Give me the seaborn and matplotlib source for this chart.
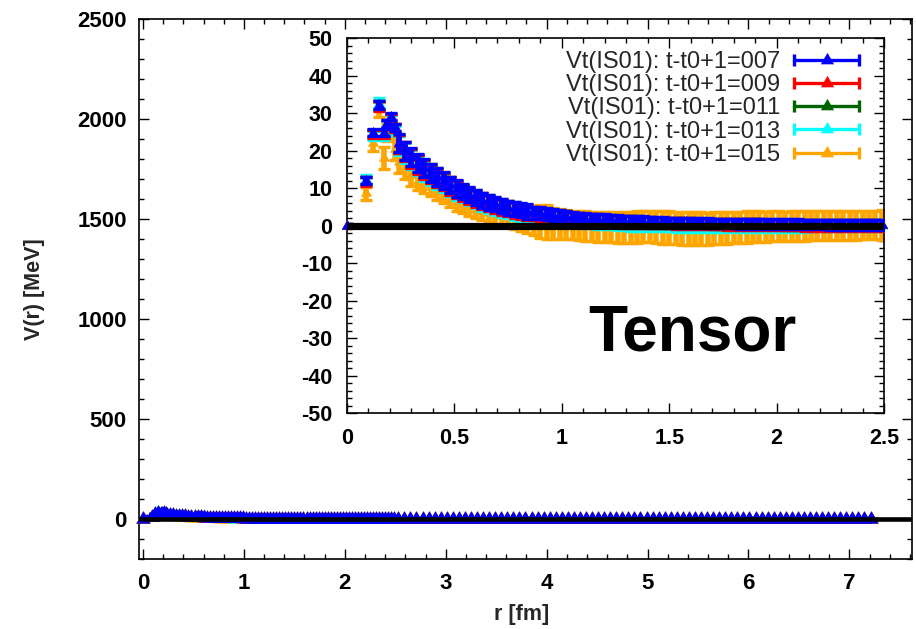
import matplotlib
matplotlib.use("Agg")
import matplotlib.pyplot as plt
import seaborn as sns
from matplotlib.lines import Line2D
from matplotlib.legend_handler import HandlerLine2D, HandlerTuple
from matplotlib.ticker import MultipleLocator, FuncFormatter

# ---------------- data ----------------
labels = ["Vt(IS01): t-t0+1=007", "Vt(IS01): t-t0+1=009", "Vt(IS01): t-t0+1=011",
          "Vt(IS01): t-t0+1=013", "Vt(IS01): t-t0+1=015"]
colors = ["#0000ff", "#ff0000", "#006400", "#00ffff", "#ffa500"]

r_in = [0.0, 0.088, 0.120, 0.149, 0.174, 0.185, 0.205, 0.223,
        0.24, 0.27, 0.30, 0.33, 0.36, 0.39, 0.42, 0.45, 0.48, 0.51,
        0.54, 0.57, 0.60, 0.63, 0.66, 0.69, 0.72, 0.75, 0.78, 0.81,
        0.84, 0.87, 0.90, 0.93, 0.96, 0.99, 1.02, 1.05, 1.08, 1.11,
        1.14, 1.17, 1.20, 1.23, 1.26, 1.29, 1.32, 1.35, 1.38, 1.41,
        1.44, 1.47, 1.50, 1.53, 1.56, 1.59, 1.62, 1.65, 1.68, 1.71,
        1.74, 1.77, 1.80, 1.83, 1.86, 1.89, 1.92, 1.95, 1.98, 2.01,
        2.04, 2.07, 2.10, 2.13, 2.16, 2.19, 2.22, 2.25, 2.28, 2.31,
        2.34, 2.37, 2.40, 2.43, 2.46, 2.49]

v_007 = [0.0, 12.0, 24.8, 32.2, 24.8, 27.3, 29.1, 26.2,
         22.0, 20.0, 18.2, 16.6, 15.3, 14.1, 13.0, 12.0, 10.9, 9.9,
         9.0, 8.2, 7.5, 6.8, 6.2, 5.7, 5.2, 4.8, 4.4, 4.1,
         3.8, 3.5, 3.3, 3.0, 2.8, 2.6, 2.4, 2.2, 2.1, 1.9,
         1.8, 1.7, 1.6, 1.5, 1.4, 1.3, 1.2, 1.15, 1.1, 1.0,
         0.95, 0.9, 0.85, 0.8, 0.8, 0.75, 0.7, 0.7, 0.65, 0.6,
         0.6, 0.55, 0.55, 0.5, 0.5, 0.45, 0.45, 0.4, 0.4, 0.4,
         0.35, 0.35, 0.35, 0.3, 0.3, 0.3, 0.3, 0.25, 0.25, 0.25,
         0.25, 0.2, 0.2, 0.2, 0.2, 0.2]
e_007 = [0.4, 1.0, 1.0, 1.2, 1.0, 1.0, 1.0, 1.0,
         2.4, 2.4, 2.4, 2.4, 2.4, 2.4, 2.4, 2.2, 2.2, 2.2,
         2.0, 2.0, 2.0, 2.0, 2.0, 1.9, 1.9, 1.9, 1.9, 1.9,
         1.9, 1.6, 1.6, 1.6, 1.6, 1.6, 1.6, 1.4, 1.4, 1.4,
         1.4, 1.4, 1.4, 1.4, 1.4, 1.4, 1.4, 1.4, 1.4, 1.4,
         1.3, 1.3, 1.3, 1.3, 1.3, 1.3, 1.3, 1.3, 1.3, 1.3,
         1.3, 1.3, 1.3, 1.3, 1.3, 1.3, 1.3, 1.3, 1.3, 1.3,
         1.3, 1.3, 1.3, 1.3, 1.3, 1.3, 1.3, 1.3, 1.3, 1.3,
         1.3, 1.3, 1.3, 1.3, 1.3, 1.3]

v_009 = [0.0, 11.8, 24.5, 31.9, 24.5, 27.0, 28.8, 26.0,
         21.8, 19.8, 18.0, 16.4, 15.0, 13.8, 12.7, 11.7, 10.6, 9.6,
         8.7, 7.9, 7.2, 6.5, 5.9, 5.4, 4.9, 4.5, 4.1, 3.8,
         3.5, 3.2, 3.0, 2.7, 2.5, 2.3, 2.1, 1.9, 1.8, 1.6,
         1.5, 1.4, 1.3, 1.2, 1.1, 1.0, 0.95, 0.9, 0.85, 0.8,
         0.75, 0.7, 0.65, 0.6, 0.6, 0.55, 0.5, 0.5, 0.45, 0.4,
         0.4, 0.35, 0.35, 0.3, 0.3, 0.25, 0.25, 0.2, 0.2, 0.2,
         0.15, 0.15, 0.15, 0.1, 0.1, 0.1, 0.1, 0.1, 0.1, 0.1,
         0.1, 0.1, 0.1, 0.1, 0.1, 0.1]
e_009 = [0.5, 1.1, 1.1, 1.3, 1.1, 1.1, 1.1, 1.1,
         2.5, 2.5, 2.5, 2.5, 2.5, 2.5, 2.5, 2.3, 2.3, 2.3,
         2.1, 2.1, 2.1, 2.1, 2.1, 2.0, 2.0, 2.0, 2.0, 2.0,
         2.0, 1.7, 1.7, 1.7, 1.7, 1.7, 1.7, 1.5, 1.5, 1.5,
         1.5, 1.5, 1.5, 1.5, 1.5, 1.5, 1.5, 1.5, 1.5, 1.5,
         1.4, 1.4, 1.4, 1.4, 1.4, 1.4, 1.4, 1.4, 1.4, 1.4,
         1.4, 1.4, 1.4, 1.4, 1.4, 1.4, 1.4, 1.4, 1.4, 1.4,
         1.4, 1.4, 1.4, 1.4, 1.4, 1.4, 1.4, 1.4, 1.4, 1.4,
         1.4, 1.4, 1.4, 1.4, 1.4, 1.4]

v_011 = [0.0, 12.0, 24.6, 32.0, 24.6, 27.1, 28.9, 26.0,
         21.9, 19.9, 18.1, 16.5, 15.2, 14.0, 12.9, 11.9, 10.8, 9.8,
         8.9, 8.1, 7.4, 6.7, 6.1, 5.6, 5.1, 4.7, 4.3, 4.0,
         3.7, 3.4, 3.2, 2.9, 2.7, 2.5, 2.3, 2.1, 2.0, 1.8,
         1.7, 1.6, 1.5, 1.4, 1.3, 1.2, 1.1, 1.05, 1.0, 0.9,
         0.85, 0.8, 0.75, 0.7, 0.7, 0.65, 0.6, 0.6, 0.55, 0.5,
         0.5, 0.45, 0.45, 0.4, 0.4, 0.35, 0.35, 0.3, 0.3, 0.3,
         0.25, 0.25, 0.25, 0.2, 0.2, 0.2, 0.2, 0.15, 0.15, 0.15,
         0.15, 0.15, 0.15, 0.15, 0.15, 0.15]
e_011 = [0.4, 1.0, 1.0, 1.2, 1.0, 1.0, 1.0, 1.0,
         2.4, 2.4, 2.4, 2.4, 2.4, 2.4, 2.4, 2.2, 2.2, 2.2,
         2.0, 2.0, 2.0, 2.0, 2.0, 1.9, 1.9, 1.9, 1.9, 1.9,
         1.9, 1.6, 1.6, 1.6, 1.6, 1.6, 1.6, 1.4, 1.4, 1.4,
         1.4, 1.4, 1.4, 1.4, 1.4, 1.4, 1.4, 1.4, 1.4, 1.4,
         1.3, 1.3, 1.3, 1.3, 1.3, 1.3, 1.3, 1.3, 1.3, 1.3,
         1.3, 1.3, 1.3, 1.3, 1.3, 1.3, 1.3, 1.3, 1.3, 1.3,
         1.3, 1.3, 1.3, 1.3, 1.3, 1.3, 1.3, 1.3, 1.3, 1.3,
         1.3, 1.3, 1.3, 1.3, 1.3, 1.3]

v_013 = [0.0, 12.4, 24.0, 32.8, 24.0, 26.6, 28.4, 25.4,
         21.4, 19.4, 17.6, 16.0, 14.6, 13.4, 12.3, 11.3, 10.3, 9.3,
         8.4, 7.6, 6.9, 6.2, 5.6, 5.0, 4.5, 4.1, 3.7, 3.3,
         3.0, 2.7, 2.4, 2.1, 1.9, 1.7, 1.5, 1.3, 1.2, 1.0,
         0.9, 0.8, 0.7, 0.6, 0.5, 0.4, 0.3, 0.25, 0.2, 0.1,
         0.05, 0.0, 0.0, -0.1, -0.1, -0.1, -0.2, -0.2, -0.2, -0.2,
         -0.2, -0.2, -0.2, -0.2, -0.2, -0.2, -0.2, -0.1, -0.1, -0.1,
         -0.1, -0.1, -0.1, -0.1, 0.0, 0.0, 0.0, 0.0, 0.0, 0.0,
         0.0, 0.0, 0.0, 0.0, 0.0, 0.0]
e_013 = [0.4, 1.2, 1.2, 1.4, 1.2, 1.2, 1.2, 1.2,
         2.6, 2.6, 2.6, 2.6, 2.6, 2.6, 2.6, 2.4, 2.4, 2.4,
         2.2, 2.2, 2.2, 2.2, 2.2, 2.1, 2.1, 2.1, 2.1, 2.1,
         2.1, 1.8, 1.8, 1.8, 1.8, 1.8, 1.8, 1.6, 1.6, 1.6,
         1.6, 1.6, 1.6, 1.6, 1.6, 1.6, 1.6, 1.6, 1.6, 1.6,
         1.5, 1.5, 1.5, 1.5, 1.5, 1.5, 1.5, 1.5, 1.5, 1.5,
         1.5, 1.5, 1.5, 1.5, 1.5, 1.5, 1.5, 1.5, 1.5, 1.5,
         1.5, 1.5, 1.5, 1.5, 1.5, 1.5, 1.5, 1.5, 1.5, 1.5,
         1.5, 1.5, 1.5, 1.5, 1.5, 1.5]

v_015 = [0.0, 8.6, 22.0, 31.0, 18.0, 25.0, 27.0, 20.5,
         17.0, 15.5, 13.5, 12.0, 11.2, 10.2, 9.0, 8.2, 7.1, 6.2,
         5.6, 4.9, 4.3, 3.8, 3.4, 3.0, 2.7, 2.4, 2.0, 1.6,
         1.3, 1.0, 1.1, 1.0, 0.6, 0.4, 0.3, 0.2, 0.0, -0.1,
         -0.2, -0.3, -0.3, -0.4, -0.5, -0.5, -0.4, -0.3, -0.2, -0.2,
         -0.4, -0.5, -0.5, -0.6, -0.7, -0.7, -0.7, -0.8, -0.8, -0.7,
         -0.7, -0.6, -0.5, -0.5, -0.4, -0.3, -0.3, -0.3, -0.2, -0.2,
         -0.2, -0.1, -0.1, -0.1, 0.0, 0.0, 0.0, 0.0, 0.1, 0.1,
         0.1, 0.1, 0.2, 0.2, 0.2, 0.2]
e_015 = [0.5, 1.8, 2.0, 2.0, 3.0, 2.5, 2.5, 3.0,
         3.0, 3.0, 2.8, 2.5, 2.5, 2.3, 2.2, 2.2, 2.2, 2.2,
         2.2, 2.2, 2.2, 2.3, 2.3, 2.5, 2.5, 2.6, 2.8, 3.0,
         3.2, 3.6, 4.4, 4.6, 4.2, 4.0, 3.9, 3.8, 3.9, 3.9,
         3.9, 4.0, 4.0, 4.0, 4.1, 4.1, 4.1, 4.2, 4.2, 4.2,
         4.3, 4.3, 4.3, 4.3, 4.4, 4.4, 4.4, 4.4, 4.3, 4.3,
         4.3, 4.3, 4.2, 4.2, 4.2, 4.1, 4.1, 4.0, 4.0, 4.0,
         3.9, 3.9, 3.9, 3.9, 3.8, 3.8, 3.8, 3.8, 3.8, 3.8,
         3.8, 3.8, 3.8, 3.8, 3.8, 3.9]

# long-range tail (only visible in the full-range panel; all series sit at ~0 MeV there)
r_tail = [2.53, 2.59, 2.65, 2.71, 2.77, 2.83, 2.89, 2.95, 3.01, 3.07,
          3.13, 3.19, 3.25, 3.31, 3.37, 3.43, 3.49, 3.55, 3.61, 3.67,
          3.73, 3.79, 3.85, 3.91, 3.97, 4.03, 4.09, 4.15, 4.21, 4.27,
          4.33, 4.39, 4.45, 4.51, 4.57, 4.63, 4.69, 4.75, 4.81, 4.87,
          4.93, 4.99, 5.05, 5.11, 5.17, 5.23, 5.29, 5.35, 5.41, 5.47,
          5.53, 5.59, 5.65, 5.71, 5.77, 5.83, 5.89, 5.95, 6.01, 6.07,
          6.13, 6.19, 6.25, 6.31, 6.37, 6.43, 6.49, 6.55, 6.61, 6.67,
          6.73, 6.79, 6.85, 6.91, 6.97, 7.03, 7.09, 7.15, 7.21]
v_tail = [0.2, 0.2, 0.2, 0.2, 0.2, 0.2, 0.1, 0.1, 0.1, 0.1,
          0.1, 0.1, 0.1, 0.1, 0.1, 0.1, 0.1, 0.1, 0.1, 0.1,
          0.1, 0.1, 0.1, 0.1, 0.0, 0.0, 0.0, 0.0, 0.0, 0.0,
          0.0, 0.0, 0.0, 0.0, 0.0, 0.0, 0.0, 0.0, 0.0, 0.0,
          0.0, 0.0, 0.0, 0.0, 0.0, 0.0, 0.0, 0.0, 0.0, 0.0,
          0.0, 0.0, 0.0, 0.0, 0.0, 0.0, 0.0, 0.0, 0.0, 0.0,
          0.0, 0.0, 0.0, 0.0, 0.0, 0.0, 0.0, 0.0, 0.0, 0.0,
          0.0, 0.0, 0.0, 0.0, 0.0, 0.0, 0.0, 0.0, 0.0]
e_tail = [1.0, 1.0, 1.0, 1.0, 1.0, 1.0, 1.0, 1.0, 1.0, 1.0,
          1.0, 1.0, 1.0, 1.0, 1.0, 1.0, 1.0, 1.0, 1.0, 1.0,
          1.0, 1.0, 1.0, 1.0, 1.0, 1.0, 1.0, 1.0, 1.0, 1.0,
          1.0, 1.0, 1.0, 1.0, 1.0, 1.0, 1.0, 1.0, 1.0, 1.0,
          1.0, 1.0, 1.0, 1.0, 1.0, 1.0, 1.0, 1.0, 1.0, 1.0,
          1.0, 1.0, 1.0, 1.0, 1.0, 1.0, 1.0, 1.0, 1.0, 1.0,
          1.0, 1.0, 1.0, 1.0, 1.0, 1.0, 1.0, 1.0, 1.0, 1.0,
          1.0, 1.0, 1.0, 1.0, 1.0, 1.0, 1.0, 1.0, 1.0]

values = [v_007, v_009, v_011, v_013, v_015]
errors = [e_007, e_009, e_011, e_013, e_015]

main_xticks = [0, 1, 2, 3, 4, 5, 6, 7]
main_yticks = [0, 500, 1000, 1500, 2000, 2500]
inset_xticks = [0, 0.5, 1, 1.5, 2, 2.5]
inset_yticks = [-50, -40, -30, -20, -10, 0, 10, 20, 30, 40, 50]

# gnuplot-style filled triangle, centred on its centroid
TRI = [(0.0, 1.0), (-0.87, -0.5), (0.87, -0.5)]

# ---------------- style ----------------
sns.set_style("ticks")
plt.rcParams["font.family"] = ["Liberation Sans", "DejaVu Sans"]
plt.rcParams["axes.unicode_minus"] = False

fig = plt.figure(figsize=(9.16, 6.29), dpi=100)
ax = fig.add_axes([0.1521, 0.1113, 0.8432, 0.8585])
axi = fig.add_axes([0.3788, 0.3434, 0.5863, 0.5957])

fmt = FuncFormatter(lambda v, p: "%g" % v)


def style_axes(a, xmin, ymin, xpad, ypad, xt, yt, fs):
    a.set_xticks(xt)
    a.set_yticks(yt)
    a.xaxis.set_minor_locator(xmin)
    a.yaxis.set_minor_locator(ymin)
    a.xaxis.set_major_formatter(fmt)
    a.yaxis.set_major_formatter(fmt)
    a.tick_params(which="both", direction="in", top=True, right=True,
                  colors="black", width=1.0)
    a.tick_params(which="major", length=7)
    a.tick_params(axis="x", which="major", pad=xpad)
    a.tick_params(axis="y", which="major", pad=ypad)
    a.tick_params(which="minor", length=3.8)
    for lab in a.get_xticklabels() + a.get_yticklabels():
        lab.set_fontweight("bold")
        lab.set_fontsize(fs)
    for s in a.spines.values():
        s.set_visible(True)
        s.set_color("black")
        s.set_linewidth(1.2)


def draw(a, with_tail, ms_area, elw):
    order = list(range(len(labels)))[::-1]
    for k, i in enumerate(order):
        r = list(r_in) + (list(r_tail) if with_tail else [])
        v = list(values[i]) + (list(v_tail) if with_tail else [])
        e = list(errors[i]) + (list(e_tail) if with_tail else [])
        a.errorbar(r, v, yerr=e, fmt="none", ecolor=colors[i], elinewidth=elw,
                   capsize=4.3, capthick=2.4, zorder=2 + 2 * k)
        sns.scatterplot(x=r, y=v, ax=a, color=colors[i], marker=TRI, s=ms_area,
                        linewidth=0, zorder=3 + 2 * k, legend=False, clip_on=False)


# ---------------- main panel ----------------
draw(ax, True, 135, 2.2)
ax.axhline(0, color="black", lw=3.3, zorder=30)
ax.set_xlim(-0.037, 7.618)
ax.set_ylim(-200, 2500)
style_axes(ax, MultipleLocator(0.2), MultipleLocator(100), 10, 9,
           main_xticks, main_yticks, 16)
ax.set_xlabel("r [fm]", fontsize=15.5, fontweight="bold")
ax.set_ylabel("V(r) [MeV]", fontsize=15.5, fontweight="bold")
ax.xaxis.set_label_coords(0.4955, -0.083)
ax.yaxis.set_label_coords(-0.122, 0.5)

# ---------------- inset ----------------
axi.set_facecolor("white")
draw(axi, False, 85, 4.0)
axi.axhline(0, color="black", lw=5.2, zorder=30)
axi.set_xlim(0, 2.5)
axi.set_ylim(-50, 50)
style_axes(axi, MultipleLocator(0.1), MultipleLocator(2), 10.5, 10.5,
           inset_xticks, inset_yticks, 15.5)

axi.text(0.6425, 0.1655, "Tensor", transform=axi.transAxes, ha="center",
         va="baseline", fontsize=46, fontweight="bold", color="black", zorder=40)

# legend: gnuplot-like sample (line with caps and a triangle)
handles = []
hmap = {}
for lab, c in zip(labels, colors):
    cap = Line2D([], [], color=c, lw=2.4, marker="|", markersize=8,
                 markeredgewidth=2.4)
    tri = Line2D([], [], color=c, lw=0, linestyle="none", marker=TRI,
                 markersize=11, markeredgewidth=0)
    hmap[cap] = HandlerLine2D(numpoints=2, marker_pad=0)
    hmap[tri] = HandlerLine2D(numpoints=1)
    handles.append((cap, tri))
hmap[tuple] = HandlerTuple(ndivide=1, pad=0)

leg = axi.legend(handles, labels, handler_map=hmap, loc="upper right",
                 bbox_to_anchor=(0.9535, 0.966), frameon=False, markerfirst=False,
                 fontsize=17, handlelength=2.75, handletextpad=0.6,
                 labelspacing=0.05, borderpad=0, borderaxespad=0)
leg.set_zorder(50)

fig.savefig("out.png", dpi=100)
